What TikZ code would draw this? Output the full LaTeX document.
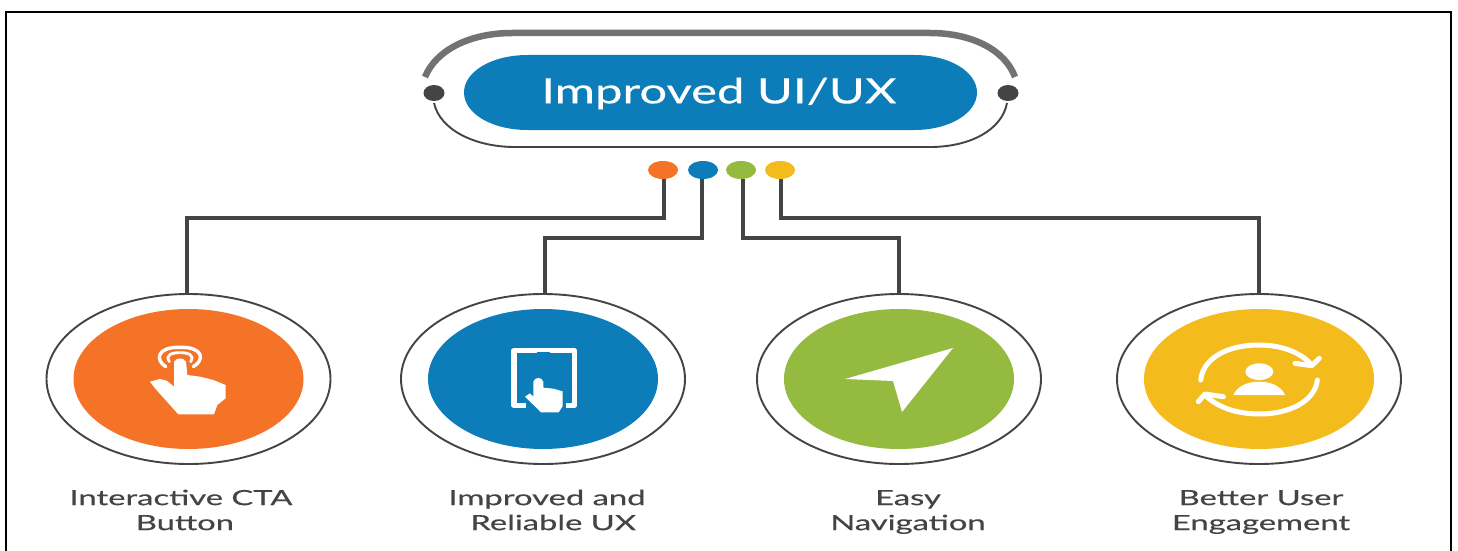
\documentclass[tikz,border=0pt]{standalone}
\usepackage{fontspec}
\setmainfont{Lato}[FakeBold=0.25]
\usetikzlibrary{shapes.geometric}
\definecolor{cOrange}{HTML}{F47327}
\definecolor{cBlue}{HTML}{0C7DB8}
\definecolor{cGreen}{HTML}{94BA3F}
\definecolor{cYellow}{HTML}{F3BC1C}
\definecolor{cDark}{HTML}{444444}
\definecolor{cGray}{HTML}{707370}
\tikzset{
  x=1pt,y=-1pt,
  ring/.style={ellipse,draw=cDark,line width=1.9pt,fill=white,minimum width=284pt,minimum height=170pt,inner sep=0pt},
  disc/.style={ellipse,fill=#1,minimum width=230pt,minimum height=140pt,inner sep=0pt},
  dotnode/.style={ellipse,fill=#1,minimum width=30pt,minimum height=18pt,inner sep=0pt},
  sidedot/.style={ellipse,fill=cDark,minimum width=21pt,minimum height=16pt,inner sep=0pt},
  wire/.style={draw=cDark,line width=3.1pt},
  lbl/.style={align=center,transform shape,xscale=1.56,text=cDark,font=\fontsize{21}{25}\selectfont,inner sep=0pt},
  iconline/.style={draw=white,line width=#1,line cap=round,line join=round},
  iconfill/.style={fill=white,line join=round}
}
\begin{document}
\begin{tikzpicture}
\useasboundingbox (0,0) rectangle (1458,551);
\fill[white] (0,0) rectangle (1458,551);
\draw[black,line width=2pt] (6,551) -- (6,12) -- (1451,12) -- (1451,551);

% header
\draw[cGray,line width=6.5pt] (425,77) .. controls (436,50) and (470,33) .. (512,33) -- (930,33) .. controls (972,33) and (1005,50) .. (1015,77);
\draw[cDark,line width=1.9pt] (434,103) .. controls (440,130) and (475,147) .. (515,147) -- (930,147) .. controls (970,147) and (1002,130) .. (1007,103);
\fill[cBlue] (528,55) -- (914,55) .. controls (950,55) and (977,72) .. (977,92.5) .. controls (977,113) and (950,130) .. (914,130) -- (528,130) .. controls (491,130) and (464,113) .. (464,92.5) .. controls (464,72) and (491,55) .. (528,55) -- cycle;
\node[transform shape,xscale=1.4,text=white,font=\fontsize{35}{40}\selectfont,inner sep=0pt] (title) at (719,93.5) {Improved UI/UX};
\node[sidedot] (sl) at (434,93) {};
\node[sidedot] (sr) at (1008,93) {};

% dots
\node[dotnode=cOrange] (d1) at (663,170) {};
\node[dotnode=cBlue] (d2) at (703,170) {};
\node[dotnode=cGreen] (d3) at (741,170) {};
\node[dotnode=cYellow] (d4) at (780,170) {};

% rings
\node[ring] (c1) at (188.5,379) {};
\node[ring] (c2) at (543,379) {};
\node[ring] (c3) at (899,379) {};
\node[ring] (c4) at (1259,379) {};
\node[disc=cOrange] (i1) at (c1) {};
\node[disc=cBlue] (i2) at (c2) {};
\node[disc=cGreen] (i3) at (c3) {};
\node[disc=cYellow] (i4) at (c4) {};

% connectors
\coordinate (b1) at (664,218);
\coordinate (b2) at (702,238);
\coordinate (b3) at (743,238);
\coordinate (b4) at (781,218);
\coordinate (t1) at (187,294);
\coordinate (t2) at (545,294);
\coordinate (t3) at (899,294);
\coordinate (t4) at (1259,294);
\draw[wire] (d1.south -| b1) -- (b1) -- (b1 -| t1) -- (t1);
\draw[wire] (d2.south -| b2) -- (b2) -- (b2 -| t2) -- (t2);
\draw[wire] (d3.south -| b3) -- (b3) -- (b3 -| t3) -- (t3);
\draw[wire] (d4.south -| b4) -- (b4) -- (b4 -| t4) -- (t4);

% icon 1: hand with rings
\begin{scope}[shift={(110,320)},scale=1/3]
  \draw[iconline=3.4pt] (167,140) .. controls (135,120) and (140,80) .. (210,82) .. controls (280,80) and (285,120) .. (250,140);
  \draw[iconline=2.8pt] (178,125) .. controls (165,105) and (185,98) .. (210,98) .. controls (235,98) and (255,105) .. (242,125);
  \fill[iconfill] (120,185) -- (150,177) -- (170,182) -- (192,200) -- (192,125) .. controls (200,112) and (220,112) .. (228,125) -- (232,165) -- (270,170) -- (310,180) -- (347,195) -- (347,235) -- (322,255) -- (312,283) -- (205,283) -- (135,205) -- cycle;
\end{scope}

% icon 2: tablet with hand
\begin{scope}[shift={(470,320)},scale=1/3]
  \draw[draw=white,line width=5.4pt,line join=round] (168,256) -- (132,256) -- (132,92) -- (313,92) -- (313,256) -- (288,256);
  \draw[draw=cBlue,line width=1.4pt] (200,98) -- (240,98);
  \fill[iconfill] (165,230) -- (180,220) -- (190,230) -- (190,185) .. controls (195,170) and (215,170) .. (220,185) -- (220,203) -- (250,206) -- (278,214) -- (278,258) -- (266,277) -- (213,277) -- cycle;
\end{scope}

% icon 3: navigation arrow
\fill[white] (845,379) -- (953,348) -- (902,412) -- (893,381) -- cycle;

% icon 4: user with arrows
\begin{scope}[shift={(1180,330)},scale=1/3]
  \draw[iconline=5pt] (62,150) .. controls (70,80) and (150,45) .. (235,45) .. controls (310,45) and (365,70) .. (395,105);
  \draw[iconline=5pt] (345,100) -- (395,107) -- (418,85);
  \draw[iconline=5pt] (412,150) .. controls (405,215) and (325,252) .. (240,252) .. controls (165,252) and (110,230) .. (75,195);
  \draw[iconline=5pt] (130,200) -- (75,192) -- (55,215);
  \fill[white] (238,125) ellipse[x radius=42,y radius=25];
  \fill[white] (160,195) .. controls (170,170) and (200,155) .. (238,155) .. controls (275,155) and (305,170) .. (315,195) -- cycle;
\end{scope}

% labels
\node[lbl] (l1) at (181,510) {Interactive CTA\\\hspace*{5pt}Button};
\node[lbl] (l2) at (547,510) {Improved and\\\hspace*{8pt}Reliable UX};
\node[lbl] (l3) at (908,512) {Easy\\Navigation};
\node[lbl] (l4) at (1261,512) {Better User\\Engagement};
\end{tikzpicture}
\end{document}
